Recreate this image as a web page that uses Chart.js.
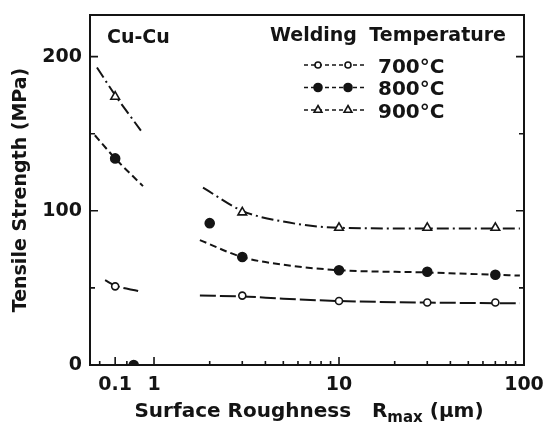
<!DOCTYPE html>
<html lang="en">
<head>
<meta charset="UTF-8" />
<title>Tensile strength vs surface roughness</title>
<script src="https://cdn.jsdelivr.net/npm/chart.js"></script>
<style>
  html, body { margin: 0; padding: 0; background: #fff; }
</style>
</head>
<body>
<canvas id="chart" width="552" height="426"></canvas>
<script>
// ---- values ----
const temps = ['700°C', '800°C', '900°C'];

// measured points: roughness Rmax (µm) / tensile strength (MPa)
const x700 = [0.1, 3, 10, 30, 70];
const y700 = [51, 45, 41.5, 40.5, 40.5];
const x800 = [0.1, 0.3, 2, 3, 10, 30, 70];
const y800 = [134, 0, 92, 70, 61.5, 60.5, 58.5];
const x900 = [0.1, 3, 10, 30, 70];
const y900 = [174, 99, 89, 89, 89];

// trend curves (null = break between the two parts)
const cx700 = [0.055, 0.1, 0.39, null, 1.77, 3, 5, 10, 30, 95];
const cy700 = [55, 51.5, 48, null, 45, 44.5, 43, 41.5, 40.5, 40];
const cx800 = [0.03, 0.1, 0.52, null, 1.77, 3, 5, 10, 30, 95];
const cy800 = [149, 134, 116, null, 81, 70, 65, 61.5, 60, 58];
const cx900 = [0.034, 0.1, 0.46, null, 1.84, 3, 5, 10, 30, 95];
const cy900 = [193, 175, 152, null, 115, 100, 93, 89, 88.5, 88.5];

// axes
const xRange = [0.0225, 100];
const xTickValues = [0.1, 1, 10, 100];
const xTickLabels = ['0.1', '1', '10', '100'];
const xMinorTicks = [0.04, 0.2, 0.3, 2, 3, 4, 5, 6, 7, 8, 9, 20, 30, 40, 50, 60, 70, 80, 90];
const yTickLabels = [0, 100, 200];
const yMinorTicks = [50, 150];

// ---- styles ----
const ink = '#141414';
const FONT = 'DejaVu Sans';
const dashes = [[16, 4], [7, 4], [12, 4, 2, 4]];
const markerStyle = ['circle', 'circle', 'triangle'];
const markerFill = ['#fff', ink, '#fff'];
const markerRadius = [3.5, 4.5, 5];

// x axis is logarithmic, with the sub-micron decade squeezed (broken axis in the original).
// Values go through this mapping onto a linear Chart.js axis.
const K = 0.21;
function splitLog(v) {
  if (v === null || v === undefined || !(+v > 0)) return null;
  const l = Math.log10(+v);
  return l < 0 ? l * K : l;
}

const pts = (xs, ys) => xs.map((x, i) => ({ x: splitLog(x), y: ys[i] }));
const markersX = [x700, x800, x900], markersY = [y700, y800, y900];
const curvesX = [cx700, cx800, cx900], curvesY = [cy700, cy800, cy900];

const datasets = [];
temps.forEach((t, i) => {
  datasets.push({
    label: t,
    data: pts(markersX[i], markersY[i]),
    showLine: false,
    order: 1,
    pointStyle: markerStyle[i],
    pointRadius: markerRadius[i],
    pointBackgroundColor: markerFill[i],
    pointBorderColor: ink,
    pointBorderWidth: 1.6
  });
  datasets.push({
    label: t + ' trend',
    data: pts(curvesX[i], curvesY[i]),
    order: 2,
    borderColor: ink,
    borderWidth: 2,
    borderDash: dashes[i],
    pointRadius: 0,
    spanGaps: false,
    cubicInterpolationMode: 'monotone'
  });
});

// frame, inward ticks, x title with subscript, labels and legend
const decor = {
  id: 'decor',
  afterDraw(chart) {
    const { ctx, chartArea: a, scales: { x, y } } = chart;
    ctx.save();
    ctx.strokeStyle = ink;
    ctx.fillStyle = ink;
    ctx.lineWidth = 2;
    ctx.setLineDash([]);
    ctx.strokeRect(a.left, a.top, a.right - a.left, a.bottom - a.top);

    ctx.lineWidth = 1.6;
    ctx.beginPath();
    yTickLabels.concat(yMinorTicks).forEach(v => {
      if (v === 0) return;
      const py = y.getPixelForValue(v);
      const len = v % 100 === 0 ? 8 : 5;
      ctx.moveTo(a.left, py); ctx.lineTo(a.left + len, py);
      ctx.moveTo(a.right, py); ctx.lineTo(a.right - len, py);
    });
    xTickValues.forEach(v => {
      const px = x.getPixelForValue(splitLog(v));
      ctx.moveTo(px, a.bottom); ctx.lineTo(px, a.bottom - 8);
    });
    xMinorTicks.forEach(v => {
      const px = x.getPixelForValue(splitLog(v));
      ctx.moveTo(px, a.bottom); ctx.lineTo(px, a.bottom - 4);
    });
    ctx.stroke();

    // x axis title: Surface Roughness  Rmax (µm)
    ctx.textBaseline = 'alphabetic';
    ctx.textAlign = 'left';
    const big = 'bold 20px "' + FONT + '"', small = 'bold 15px "' + FONT + '"';
    const parts = [['Surface Roughness   R', big, 0], ['max', small, 5], [' (μm)', big, 0]];
    let total = 0;
    parts.forEach(p => { ctx.font = p[1]; total += ctx.measureText(p[0]).width; });
    let tx = (a.left + a.right) / 2 - total / 2 + 2;
    const base = a.bottom + 52;
    parts.forEach(p => {
      ctx.font = p[1];
      ctx.fillText(p[0], tx, base + p[2]);
      tx += ctx.measureText(p[0]).width;
    });

    // sample label
    ctx.font = 'bold 19px "' + FONT + '"';
    ctx.fillText('Cu-Cu', a.left + 17, a.top + 28);

    // legend
    ctx.fillText('Welding', a.right - 254, a.top + 26);
    ctx.textAlign = 'right';
    ctx.fillText('Temperature', a.right - 18, a.top + 26);
    ctx.textAlign = 'left';
    ctx.font = 'bold 20px "' + FONT + '"';
    temps.forEach((t, i) => {
      const cy = a.top + 50 + i * 22.5;
      const x0 = a.right - 220, x1 = a.right - 160;
      ctx.setLineDash([4, 3]);
      ctx.lineWidth = 1.6;
      ctx.beginPath();
      ctx.moveTo(x0, cy); ctx.lineTo(x1, cy);
      ctx.stroke();
      ctx.setLineDash([]);
      [x0 + 14, x0 + 44].forEach(mx => {
        ctx.fillStyle = markerFill[i];
        Chart.helpers.drawPoint(ctx, {
          pointStyle: markerStyle[i], radius: markerRadius[i] - 0.5, rotation: 0, borderWidth: 1.6
        }, mx, cy);
      });
      ctx.fillStyle = ink;
      ctx.fillText(t, a.right - 146, cy + 7.5);
    });
    ctx.restore();
  }
};

const noEdgePadding = s => {
  s.paddingTop = 0; s.paddingBottom = 0; s.paddingLeft = 0; s.paddingRight = 0;
};

new Chart(document.getElementById('chart'), {
  type: 'line',
  data: { datasets: datasets },
  options: {
    responsive: false,
    animation: false,
    devicePixelRatio: 1,
    layout: { padding: { top: 15, right: 28, left: 0, bottom: 0 } },
    plugins: { legend: { display: false }, tooltip: { enabled: false } },
    scales: {
      x: {
        type: 'linear',
        min: splitLog(xRange[0]),
        max: splitLog(xRange[1]),
        afterBuildTicks: s => { s.ticks = xTickValues.map(v => ({ value: splitLog(v) })); },
        afterFit: s => { s.height = 61; noEdgePadding(s); },
        grid: { display: false, drawTicks: false },
        border: { display: false },
        ticks: {
          autoSkip: false, maxRotation: 0, padding: 9, color: ink,
          font: { family: FONT, size: 19, weight: 'bold' },
          callback: (v, i) => xTickLabels[i]
        }
      },
      y: {
        min: 0,
        max: 227,
        afterBuildTicks: s => { s.ticks = yTickLabels.map(v => ({ value: v })); },
        afterFit: s => { s.width = 90; noEdgePadding(s); },
        grid: { display: false, drawTicks: false },
        border: { display: false },
        ticks: {
          padding: 8, color: ink,
          font: { family: FONT, size: 19, weight: 'bold' },
          callback: (v, i) => String(yTickLabels[i])
        },
        title: {
          display: true, text: 'Tensile Strength (MPa)', color: ink,
          font: { family: FONT, size: 19, weight: 'bold' },
          padding: { top: 10, bottom: 0 }
        }
      }
    }
  },
  plugins: [decor]
});
</script>
</body>
</html>
